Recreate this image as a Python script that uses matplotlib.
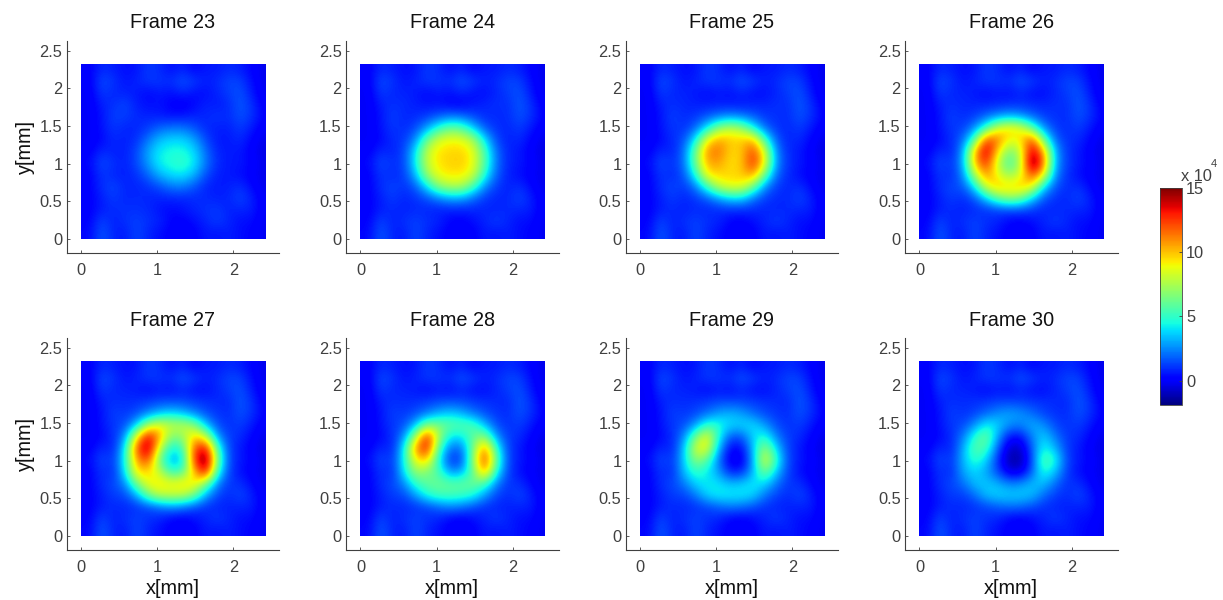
import numpy as np
import matplotlib
matplotlib.use('Agg')
import matplotlib.pyplot as plt
from matplotlib.cm import ScalarMappable
from matplotlib.colors import Normalize
from matplotlib.patches import Rectangle

W, H = 1223, 600

# all values in units of 10^4, rows run top to bottom
background = np.array([
    [.1, .9, .7, .4, .5, 1.2, .9, .4, .8, .2, .6, .6, .9, .7, .2, -.3],
    [.0, 1.5, 1.1, .5, .8, 1.1, 1.1, 1.0, 1.6, 1.2, .7, .9, 1.4, 1.3, .4, -.3],
    [-.1, 1.2, .8, .8, .6, .3, .6, .4, .8, .4, .4, .8, 1.2, 1.6, .6, -.2],
    [-.1, .7, 1.0, 1.4, .7, .3, .4, .1, -.1, .3, .8, .6, .9, 1.7, 1.0, .0],
    [-.1, .5, 1.3, 1.7, .8, .6, .6, .5, .1, .5, .9, .6, .9, 1.6, 1.0, .2],
    [-.1, .5, 1.1, 1.6, .5, .2, .5, .5, .5, .5, .3, .3, .7, 1.2, .6, -.1],
    [-.1, .3, .9, 1.2, .2, .1, .2, .2, .2, .2, .1, .1, .4, .9, .2, -.3],
    [.1, .9, .7, .5, .2, .1, .1, .1, .1, .1, .1, .1, .3, .6, .0, -.4],
    [.3, 1.5, 1.0, .3, .2, .1, .1, .1, .1, .1, .1, .1, .2, .6, .2, -.3],
    [.1, 1.1, .8, .5, .5, .3, .2, .1, .1, .2, .2, .3, .3, .4, .0, -.3],
    [.1, 1.0, 1.4, .8, .8, .5, .3, .5, .5, .6, .5, .3, .6, 1.0, .3, -.3],
    [.1, .7, 1.2, 1.0, .6, .6, .4, .4, .6, 1.1, .9, .4, .8, 1.4, .7, -.1],
    [.1, .7, .9, 1.0, 1.0, .8, .4, .2, .4, .8, 1.2, 1.1, .6, .8, .7, -.1],
    [.2, 1.4, .7, 1.0, 1.3, 1.0, .8, .2, .1, .4, .8, 1.2, .8, .4, .4, -.2],
    [.3, 1.7, .8, .6, 1.4, .8, .4, .1, -.1, .1, .6, .5, .7, .4, .2, -.2],
])

# central part of each frame, replaces the background in rows and columns 3 to 12
frame_23 = [
    [1.4, .7, .4, .5, .1, -.1, .3, .8, .6, .9],
    [1.2, .9, .8, .7, .5, .6, .8, .8, 1.1, .9],
    [.8, .8, 1.2, 1.9, 2.2, 2.2, 1.6, .9, .7, .7],
    [.7, 1.0, 2.2, 3.4, 3.8, 3.8, 3.0, 1.4, .6, .6],
    [.7, 1.4, 3.0, 4.2, 4.6, 4.6, 3.9, 2.0, .8, .6],
    [.7, 1.4, 2.8, 4.3, 4.7, 5.1, 4.2, 2.2, .9, .6],
    [.7, 1.0, 1.9, 3.2, 3.9, 4.1, 3.2, 1.5, .7, .6],
    [.8, .8, 1.0, 1.5, 2.2, 2.3, 1.6, .8, .6, .7],
    [.8, .9, .8, .7, .8, .8, .9, .9, .7, .8],
    [1.0, 1.0, .9, .5, .3, .5, .8, 1.0, 1.2, .7],
]
frame_24 = [
    [.9, .7, .5, .5, .2, .1, .6, .8, 1.0, .9],
    [.8, .9, 1.2, 1.7, 2.2, 2.0, 1.4, .9, .9, .9],
    [.9, 1.4, 2.9, 5.0, 6.2, 5.8, 3.7, 1.7, 1.0, .8],
    [1.1, 2.5, 6.2, 8.4, 9.0, 8.8, 7.6, 4.0, 1.4, .7],
    [1.3, 4.0, 8.0, 9.4, 9.6, 9.7, 8.8, 5.5, 2.0, .8],
    [1.3, 4.2, 8.0, 9.4, 9.7, 9.8, 8.9, 5.7, 2.1, .8],
    [1.2, 3.2, 7.2, 8.9, 9.3, 9.3, 8.3, 4.7, 1.8, .7],
    [1.0, 1.7, 4.0, 6.8, 7.6, 7.6, 5.4, 2.5, 1.2, .7],
    [.8, 1.0, 1.5, 2.3, 3.0, 2.9, 2.0, 1.1, .8, .8],
    [.7, .9, .8, .7, .7, .7, .8, .8, .8, .9],
]
frame_25 = [
    [.8, .7, .7, .7, .7, .6, .8, .8, 1.0, .9],
    [.9, 1.1, 1.6, 2.2, 2.6, 2.3, 1.7, 1.1, 1.0, .9],
    [1.0, 1.9, 4.2, 7.0, 8.0, 7.2, 4.6, 2.0, 1.1, .8],
    [1.5, 4.2, 9.0, 10.6, 9.8, 9.8, 10.4, 5.4, 1.7, .8],
    [2.0, 6.2, 11.0, 11.5, 9.6, 9.8, 12.5, 8.6, 2.4, .9],
    [2.0, 6.2, 10.4, 10.6, 9.4, 9.8, 13.0, 9.0, 2.6, 1.0],
    [1.6, 4.6, 9.2, 9.6, 9.6, 9.8, 10.8, 6.2, 1.9, .9],
    [1.1, 2.2, 5.2, 8.0, 8.8, 8.8, 6.4, 2.6, 1.2, .8],
    [.8, 1.1, 1.7, 2.8, 3.8, 3.8, 2.2, 1.2, .9, .8],
    [.7, .9, .8, .9, .9, .9, .9, .8, .8, .9],
]
frame_26 = [
    [.8, .8, .8, .8, 1.0, 1.0, .9, .8, 1.0, .9],
    [.9, 1.2, 1.9, 2.7, 3.2, 2.8, 1.9, 1.2, 1.0, .9],
    [1.2, 2.5, 5.2, 8.6, 9.6, 9.0, 6.0, 2.6, 1.2, .9],
    [1.9, 5.5, 12.5, 11.5, 8.8, 9.2, 12.5, 6.2, 1.9, 1.0],
    [2.7, 10.0, 14.5, 9.6, 6.2, 8.0, 14.5, 10.5, 3.0, 1.1],
    [2.9, 10.0, 13.0, 8.0, 5.2, 7.5, 16.0, 11.5, 3.0, 1.2],
    [2.4, 7.4, 11.0, 8.8, 7.0, 8.4, 12.5, 9.0, 2.5, 1.0],
    [1.6, 4.0, 8.6, 10.0, 9.6, 10.0, 9.0, 4.0, 1.6, .9],
    [.9, 1.6, 3.6, 6.0, 7.0, 6.4, 3.8, 1.6, 1.0, .8],
    [.7, .9, 1.0, 1.2, 1.4, 1.4, 1.1, .8, .8, .9],
]
frame_27 = [
    [.9, 1.0, 1.2, 1.4, 1.5, 1.4, 1.2, 1.0, .9, .8],
    [1.1, 1.5, 2.4, 3.4, 3.9, 3.4, 2.4, 1.5, 1.1, .9],
    [1.5, 3.6, 7.6, 9.0, 8.0, 8.0, 7.0, 3.6, 1.5, 1.0],
    [2.5, 9.0, 14.0, 10.6, 6.5, 7.0, 10.0, 8.4, 2.8, 1.2],
    [4.0, 12.0, 15.0, 8.0, 4.2, 5.0, 12.0, 14.0, 5.5, 1.3],
    [4.4, 10.6, 12.5, 6.0, 3.0, 3.6, 12.5, 16.0, 6.5, 1.4],
    [4.0, 9.5, 9.5, 8.0, 5.0, 5.6, 10.0, 14.0, 5.0, 1.3],
    [2.4, 6.4, 9.0, 9.4, 9.0, 9.4, 9.4, 6.6, 2.4, 1.1],
    [1.4, 3.0, 6.2, 8.0, 8.0, 8.0, 6.4, 3.0, 1.4, .9],
    [.8, 1.0, 1.4, 2.0, 2.6, 2.2, 1.5, 1.0, .8, .7],
]
frame_28 = [
    [.9, 1.0, 1.2, 1.4, 1.5, 1.4, 1.2, 1.0, .9, .8],
    [1.1, 1.5, 2.2, 3.2, 3.7, 3.2, 2.2, 1.5, 1.1, .9],
    [1.5, 3.4, 6.8, 6.6, 6.0, 5.8, 5.6, 3.4, 1.5, 1.0],
    [2.5, 7.4, 13.5, 7.4, 4.0, 4.0, 6.0, 7.0, 2.8, 1.2],
    [4.0, 11.0, 13.5, 5.6, 2.0, 2.0, 6.4, 11.5, 5.0, 1.3],
    [4.3, 9.0, 10.0, 4.4, 1.0, 1.2, 7.0, 13.0, 6.0, 1.4],
    [4.0, 7.2, 6.6, 5.4, 2.6, 3.0, 6.0, 11.0, 4.6, 1.3],
    [2.4, 5.0, 6.0, 6.2, 6.0, 6.0, 6.2, 5.4, 2.4, 1.1],
    [1.4, 2.8, 4.6, 5.4, 5.4, 5.2, 4.6, 2.8, 1.4, .9],
    [.8, 1.0, 1.3, 1.9, 2.4, 2.1, 1.5, 1.0, .8, .7],
]
frame_29 = [
    [.9, 1.0, 1.2, 1.4, 1.4, 1.3, 1.2, 1.0, .9, .8],
    [1.1, 1.4, 2.0, 2.9, 3.3, 2.9, 2.0, 1.4, 1.1, .9],
    [1.5, 2.8, 5.2, 4.8, 3.8, 3.8, 4.0, 2.8, 1.5, 1.0],
    [2.4, 6.4, 9.2, 4.6, 1.6, 1.6, 3.8, 4.8, 2.4, 1.2],
    [3.4, 8.4, 9.0, 3.2, .2, .2, 3.4, 7.4, 3.8, 1.3],
    [3.6, 7.0, 5.8, 2.2, -.3, -.3, 3.0, 9.0, 5.0, 1.4],
    [3.4, 5.0, 4.2, 2.8, .7, .8, 3.2, 6.6, 3.6, 1.3],
    [2.2, 3.8, 4.2, 4.0, 3.4, 3.6, 4.2, 3.8, 2.2, 1.1],
    [1.3, 2.2, 3.8, 4.3, 4.2, 4.2, 3.8, 2.2, 1.3, .9],
    [.8, 1.0, 1.3, 1.8, 2.2, 2.0, 1.5, 1.0, .8, .7],
]
frame_30 = [
    [.9, 1.0, 1.1, 1.3, 1.3, 1.2, 1.1, 1.0, .9, .8],
    [1.0, 1.3, 1.9, 2.6, 3.0, 2.7, 2.0, 1.3, 1.0, .9],
    [1.4, 2.6, 4.4, 3.8, 2.6, 2.4, 3.2, 2.6, 1.4, 1.0],
    [2.2, 4.8, 6.4, 3.0, .4, .3, 2.4, 3.8, 2.2, 1.1],
    [3.0, 5.8, 5.4, 1.8, -.8, -.9, 1.8, 4.6, 3.2, 1.2],
    [3.2, 5.0, 3.8, 1.0, -1.3, -1.3, 1.4, 6.0, 4.6, 1.3],
    [3.0, 3.8, 3.0, 1.4, -.4, -.4, 1.8, 4.8, 3.4, 1.2],
    [2.0, 3.4, 3.6, 3.2, 2.4, 2.6, 3.4, 3.4, 2.0, 1.0],
    [1.2, 2.0, 3.4, 3.8, 3.7, 3.7, 3.4, 2.0, 1.2, .9],
    [.8, 1.0, 1.3, 1.7, 2.0, 1.9, 1.4, 1.0, .8, .7],
]

frames = [frame_23, frame_24, frame_25, frame_26, frame_27, frame_28, frame_29, frame_30]
titles = ['Frame 23', 'Frame 24', 'Frame 25', 'Frame 26',
          'Frame 27', 'Frame 28', 'Frame 29', 'Frame 30']
x_ticks = [0, 1, 2]
y_ticks = [0, 0.5, 1, 1.5, 2, 2.5]
y_tick_labels = ['0', '0.5', '1', '1.5', '2', '2.5']
cbar_ticks = [0, 5, 10, 15]

plt.rcParams['font.family'] = ['Liberation Sans', 'DejaVu Sans']
gray = '#404040'
norm = Normalize(vmin=-1.9, vmax=15)

fig = plt.figure(figsize=(W / 100, H / 100), dpi=100)


def px_axes(left, top, right, bottom):
    return fig.add_axes([left / W, 1 - bottom / H, (right - left) / W, (bottom - top) / H])


lefts = [66.5, 346, 625.5, 905]
tops = [41, 338]

for n, frame in enumerate(frames):
    row, col = n // 4, n % 4
    ax = px_axes(lefts[col], tops[row], lefts[col] + 212.5, tops[row] + 212)
    z = background.copy()
    z[3:13, 3:13] = frame
    # one extra column on the left moves the cell centres a little to the right
    z = np.column_stack([z[:, 0], z])
    im = ax.imshow(z, cmap='jet', norm=norm, extent=[-0.1056, 2.4644, 0, 2.32],
                   interpolation='bicubic', aspect='auto')
    im.set_clip_path(Rectangle((0, 0), 2.42, 2.32, transform=ax.transData))
    ax.set_xlim(-0.19, 2.6)
    ax.set_ylim(-0.186, 2.63)
    ax.spines['top'].set_visible(False)
    ax.spines['right'].set_visible(False)
    ax.spines['left'].set_color(gray)
    ax.spines['bottom'].set_color(gray)
    ax.set_xticks(x_ticks)
    ax.set_yticks(y_ticks)
    ax.set_yticklabels(y_tick_labels)
    ax.tick_params(direction='in', length=2, width=0.6, color=gray, labelcolor=gray, labelsize=11.8)
    ax.tick_params(axis='x', pad=7)
    ax.tick_params(axis='y', pad=3)
    ax.set_title(titles[n], fontsize=14.3, color='#111111', pad=9)
    if col == 0:
        ax.set_ylabel('y[mm]', fontsize=14.3, color='#111111', labelpad=3)
    if row == 1:
        ax.set_xlabel('x[mm]', fontsize=14.3, color='#111111', labelpad=3)

cax = px_axes(1160, 188, 1182, 405)
cb = fig.colorbar(ScalarMappable(norm=norm, cmap='jet'), cax=cax)
cb.set_ticks(cbar_ticks)
cb.ax.tick_params(direction='in', length=2, width=0.6, color=gray, labelcolor=gray, labelsize=11.8, pad=3)
cb.outline.set_edgecolor(gray)
cb.outline.set_linewidth(0.6)
fig.text(1181 / W, 1 - 177 / H, 'x 10', fontsize=11.8, color=gray, va='center', ha='left')
fig.text(1211 / W, 1 - 164 / H, '4', fontsize=8, color=gray, va='center', ha='left')

fig.savefig('out.png', dpi=100)
